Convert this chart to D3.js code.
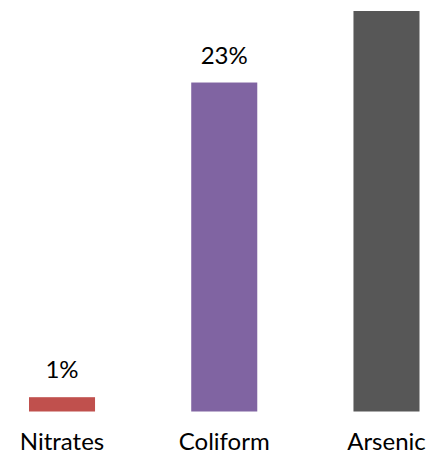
<!DOCTYPE html>
<html lang="en">
  <head>
    <meta charset="UTF-8" />
    <title>Contaminants</title>
    <style>
      html,
      body {
        margin: 0;
        background: #fff;
      }
      svg text {
        font-family: Lato, "Open Sans", sans-serif;
        fill: #000;
      }
    </style>
    <script src="https://cdn.jsdelivr.net/npm/d3@7"></script>
  </head>

  <body>
    <script>
      const width = 433;
      const height = 455;

      // data
      const categories = ["Nitrates", "Coliform", "Arsenic"];
      const values = [1, 23, 28];
      const colors = ["#c0504d", "#8064a2", "#575757"];

      const svg = d3
        .select("body")
        .append("svg")
        .attr("width", width)
        .attr("height", height);

      const xScale = d3
        .scaleBand()
        .domain(categories)
        .range([29, 419.5])
        .paddingInner(0.593)
        .paddingOuter(0);

      const yScale = d3.scaleLinear().domain([0, 28]).range([411.5, 11]);

      const rows = categories.map((c, i) => ({ name: c, value: values[i], color: colors[i] }));

      // bars
      svg
        .selectAll(".bar")
        .data(rows)
        .enter()
        .append("rect")
        .attr("class", "bar")
        .attr("x", (d) => xScale(d.name))
        .attr("width", xScale.bandwidth())
        .attr("y", (d) => yScale(d.value))
        .attr("height", (d) => yScale(0) - yScale(d.value))
        .attr("fill", (d) => d.color);

      // value labels (the tallest one falls above the picture, so skip it)
      svg
        .selectAll(".label")
        .data(rows.filter((d) => yScale(d.value) - 19 > 24))
        .enter()
        .append("text")
        .attr("class", "label")
        .attr("x", (d) => xScale(d.name) + xScale.bandwidth() / 2)
        .attr("y", (d) => yScale(d.value) - 19)
        .attr("text-anchor", "middle")
        .style("font-size", "24px")
        .text((d) => d.value + "%");

      // category axis
      const xAxis = d3.axisBottom(xScale).tickSize(0).tickPadding(0);
      const gx = svg
        .append("g")
        .attr("transform", "translate(0, 450)")
        .call(xAxis);
      gx.select(".domain").remove();
      gx.selectAll("text")
        .attr("dy", 0)
        .attr("y", 0)
        .style("font-size", "24px")
        .style("font-family", "Lato, 'Open Sans', sans-serif")
        .attr("fill", "#000");
    </script>
  </body>
</html>
